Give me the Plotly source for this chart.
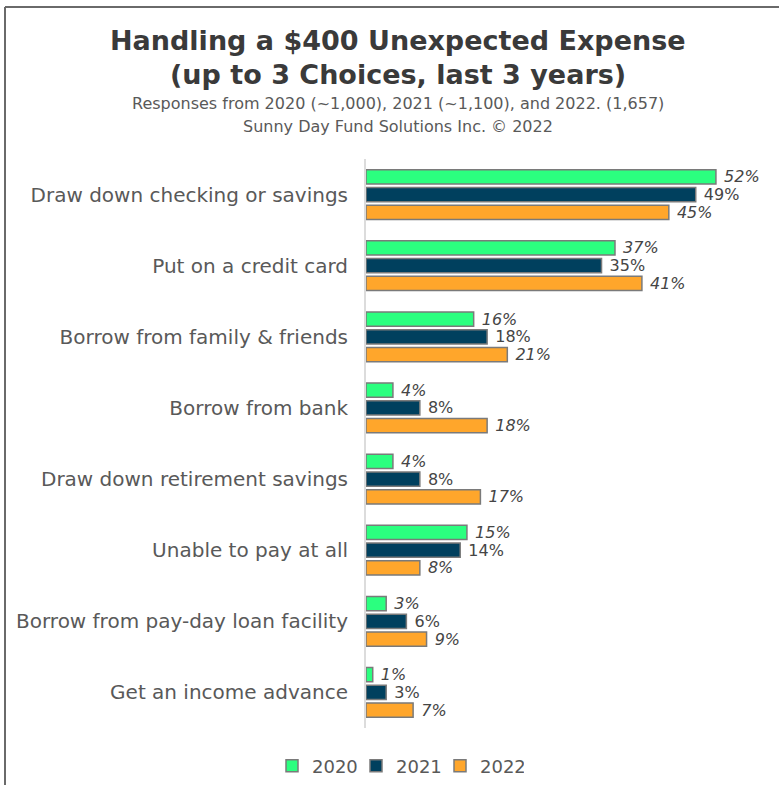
import plotly.graph_objects as go

categories = [
    "Draw down checking or savings",
    "Put on a credit card",
    "Borrow from family & friends",
    "Borrow from bank",
    "Draw down retirement savings",
    "Unable to pay at all",
    "Borrow from pay-day loan facility",
    "Get an income advance",
]
years = ["2020", "2021", "2022"]
values_2020 = [52, 37, 16, 4, 4, 15, 3, 1]
values_2021 = [49, 35, 18, 8, 8, 14, 6, 3]
values_2022 = [45, 41, 21, 18, 17, 8, 9, 7]

colors = ["#2BFF7F", "#00405E", "#FFA62B"]
label_styles = ["italic", "normal", "italic"]

W, H = 779, 785
L, R, T, B = 366, 20, 159, 57
FONT = "DejaVu Sans"


def px_x(x):
    return (x - L) / (W - L - R)


def px_y(y):
    return (H - B - y) / (H - T - B)


fig = go.Figure()
for year, vals, col, sty in zip(years, [values_2020, values_2021, values_2022], colors, label_styles):
    fig.add_trace(go.Bar(
        name=year,
        y=categories,
        x=vals,
        orientation="h",
        marker=dict(color=col, line=dict(color="#7a7a7a", width=1.5)),
        text=[f"\u00a0{v}%" for v in vals],
        textposition="outside",
        constraintext="none",
        textfont=dict(family=FONT, size=16, color="#454545", style=sty),
        cliponaxis=False,
    ))

fig.update_layout(
    width=W, height=H,
    margin=dict(l=L, r=R, t=T, b=B, autoexpand=False),
    paper_bgcolor="white",
    plot_bgcolor="white",
    barmode="group",
    bargap=0.25,
    bargroupgap=0.2,
    uniformtext=dict(minsize=16, mode="show"),
    showlegend=True,
    legend=dict(
        orientation="h", x=px_x(272), xanchor="left", y=px_y(766), yanchor="middle",
        font=dict(family=FONT, size=18, color="#595959"),
        itemwidth=30, traceorder="normal", itemclick=False,
        entrywidth=39, entrywidthmode="pixels",
    ),
    xaxis=dict(range=[0, 58.4], visible=False, showgrid=False, zeroline=False),
    yaxis=dict(
        autorange="reversed", showgrid=False, zeroline=False,
        showline=True, linecolor="#dcdcdc", linewidth=2,
        ticks="", ticklabelstandoff=12,
        tickfont=dict(family=FONT, size=20, color="#595959"),
    ),
    font=dict(family=FONT),
)

# Title block
title_lines = [
    ("Handling a $400 Unexpected Expense", 40, 27, "#3a3a3a", 700),
    ("(up to 3 Choices, last 3 years)", 75, 27, "#3a3a3a", 700),
    ("Responses from 2020 (~1,000), 2021 (~1,100), and 2022. (1,657)", 104, 16, "#595959", 400),
    ("Sunny Day Fund Solutions Inc. © 2022", 127, 16, "#595959", 400),
]
for text, y, size, col, wt in title_lines:
    fig.add_annotation(
        text=text, xref="paper", yref="paper", x=px_x(398), y=px_y(y),
        xanchor="center", yanchor="middle", showarrow=False,
        font=dict(family=FONT, size=size, color=col, weight=wt),
    )

# Frame lines along the top and left edges
fig.add_shape(type="line", xref="paper", yref="paper",
              x0=px_x(5), x1=px_x(W + 5), y0=px_y(7), y1=px_y(7),
              line=dict(color="#6a6a6a", width=2))
fig.add_shape(type="line", xref="paper", yref="paper",
              x0=px_x(5), x1=px_x(5), y0=px_y(7), y1=px_y(H + 5),
              line=dict(color="#6a6a6a", width=2))

fig.write_html("out.html")
